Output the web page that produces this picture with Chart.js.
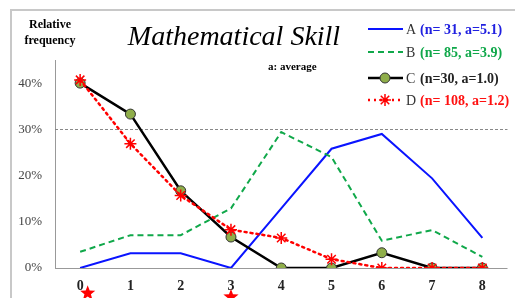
<!DOCTYPE html>
<html>
<head>
<meta charset="utf-8">
<script src="https://cdn.jsdelivr.net/npm/chart.js@4"></script>
<style>
  html, body { margin: 0; padding: 0; background: #fff; }
  #wrap { position: relative; width: 515px; height: 298px; }
</style>
</head>
<body>
<div id="wrap"><canvas id="myChart" width="515" height="298"></canvas></div>
<script>
// skill level categories
const labels = ['0', '1', '2', '3', '4', '5', '6', '7', '8'];
const yTicks = [0, 10, 20, 30, 40];
const dashedLevel = 30;

// relative frequency (%) per group
const groupA = [0, 3.2, 3.2, 0, 12.9, 25.8, 29.0, 19.4, 6.5];
const groupB = [3.5, 7.1, 7.1, 12.9, 29.4, 24.0, 5.9, 8.2, 2.4];
const groupC = [40.0, 33.3, 16.7, 6.7, 0, 0, 3.3, 0, 0];
const groupD = [40.7, 26.9, 15.7, 8.3, 6.5, 1.9, 0, 0, 0];

const legendNames = ['A', 'B', 'C', 'D'];
const legendInfo = ['(n= 31, a=5.1)', '(n= 85, a=3.9)', '(n=30, a=1.0)', '(n= 108, a=1.2)'];

// red stars under the x axis
const starMarks = [0.15, 3];

const SERIF = '"Liberation Serif", "DejaVu Serif", serif';

const decorPlugin = {
    id: 'decor',
    beforeDraw(chart) {
        const c = chart.ctx;
        // frame
        c.save();
        c.strokeStyle = '#c8c8c8';
        c.lineWidth = 2;
        c.beginPath();
        c.moveTo(11, 300);
        c.lineTo(11, 10);
        c.lineTo(520, 10);
        c.stroke();
        c.restore();
    },
    beforeDatasetsDraw(chart) {
        const c = chart.ctx;
        const area = chart.chartArea;
        const py = Math.round(chart.scales.y.getPixelForValue(dashedLevel)) + 0.5;
        c.save();
        c.strokeStyle = '#888';
        c.lineWidth = 1;
        c.setLineDash([3, 2]);
        c.beginPath();
        c.moveTo(area.left, py);
        c.lineTo(area.right, py);
        c.stroke();
        c.restore();
    },
    afterDraw(chart) {
        const c = chart.ctx;
        const x = chart.scales.x;
        const area = chart.chartArea;
        c.save();

        // titles
        c.fillStyle = '#000';
        c.textAlign = 'center';
        c.textBaseline = 'middle';
        c.font = 'bold 12px ' + SERIF;
        c.fillText('Relative', 50, 25);
        c.fillText('frequency', 50, 41);
        c.font = 'italic 28px ' + SERIF;
        c.fillText('Mathematical Skill', 234, 38);
        c.textAlign = 'left';
        c.font = 'bold 11px ' + SERIF;
        c.fillText('a: average', 268, 67);

        // legend
        const ds = chart.data.datasets;
        const rows = [29, 52, 78, 100];
        ds.forEach((d, i) => {
            const y = rows[i];
            c.save();
            c.strokeStyle = d.borderColor;
            c.lineWidth = d.borderWidth;
            c.setLineDash(d.borderDash || []);
            c.beginPath();
            c.moveTo(368, y);
            c.lineTo(403, y);
            c.stroke();
            c.restore();
            if (d.pointRadius > 0) {
                c.save();
                c.fillStyle = d.pointBackgroundColor;
                c.strokeStyle = d.pointBorderColor;
                c.lineWidth = d.pointBorderWidth;
                Chart.helpers.drawPoint(c, {
                    pointStyle: d.pointStyle, radius: d.pointRadius,
                    borderWidth: d.pointBorderWidth, rotation: 0
                }, 385, y);
                c.restore();
            }
            c.font = '14px ' + SERIF;
            c.fillStyle = '#333';
            c.fillText(legendNames[i], 406, y + 1);
            c.font = 'bold 14px ' + SERIF;
            c.fillStyle = d.textColor;
            c.fillText(legendInfo[i], 420, y + 1);
        });

        // stars
        c.fillStyle = '#ff0000';
        starMarks.forEach(v => {
            const px = x.getPixelForValue(v);
            const py = area.bottom + 25 + v * 1.3;
            c.beginPath();
            for (let k = 0; k < 10; k++) {
                const r = k % 2 === 0 ? 8 : 3.4;
                const a = -Math.PI / 2 + k * Math.PI / 5;
                const px2 = px + r * Math.cos(a);
                const py2 = py + r * Math.sin(a);
                if (k === 0) c.moveTo(px2, py2); else c.lineTo(px2, py2);
            }
            c.closePath();
            c.fill();
        });
        c.restore();
    }
};

new Chart(document.getElementById('myChart'), {
    type: 'line',
    data: {
        labels: labels,
        datasets: [
            {
                label: 'A', data: groupA, borderColor: '#0a14ff', borderWidth: 2,
                pointRadius: 0, tension: 0, order: 4, textColor: '#2020e0'
            },
            {
                label: 'B', data: groupB, borderColor: '#10a84a', borderWidth: 2,
                borderDash: [6, 4], pointRadius: 0, tension: 0, order: 3, textColor: '#10a84a'
            },
            {
                label: 'C', data: groupC, borderColor: '#000', borderWidth: 2.5,
                pointStyle: 'circle', pointRadius: 5, pointBackgroundColor: '#8fae4a',
                pointBorderColor: '#333', pointBorderWidth: 1, tension: 0, order: 2, textColor: '#222'
            },
            {
                label: 'D', data: groupD, borderColor: '#ff0000', borderWidth: 2.5,
                borderDash: [2, 4], borderCapStyle: 'round', pointStyle: 'star', pointRadius: 6,
                pointBorderColor: '#ff0000', pointBackgroundColor: '#ff0000', pointBorderWidth: 1.5,
                tension: 0, order: 1, textColor: '#ff1010'
            }
        ]
    },
    options: {
        responsive: false,
        animation: false,
        layout: { padding: { left: 0, right: 4, top: 60, bottom: 0 } },
        plugins: { legend: { display: false }, tooltip: { enabled: false } },
        scales: {
            x: {
                offset: true,
                grid: { display: false, drawTicks: false },
                border: { display: false },
                ticks: { color: '#222', font: { family: SERIF, size: 14, weight: 'bold' }, padding: 10 },
                afterFit(s) { s.height = 30; }
            },
            y: {
                min: 0, max: 45,
                afterBuildTicks(s) { s.ticks = yTicks.map(v => ({ value: v })); },
                grid: {
                    drawTicks: false,
                    color: ctx => (ctx.tick && ctx.tick.value === 0) ? '#999' : 'rgba(0,0,0,0)',
                    lineWidth: 1
                },
                border: { display: true, color: '#999', width: 1 },
                ticks: {
                    color: '#444', padding: 13,
                    font: { family: SERIF, size: 13 },
                    callback: v => v + '%'
                },
                afterFit(s) { s.width = 55; }
            }
        }
    },
    plugins: [decorPlugin]
});
</script>
</body>
</html>
